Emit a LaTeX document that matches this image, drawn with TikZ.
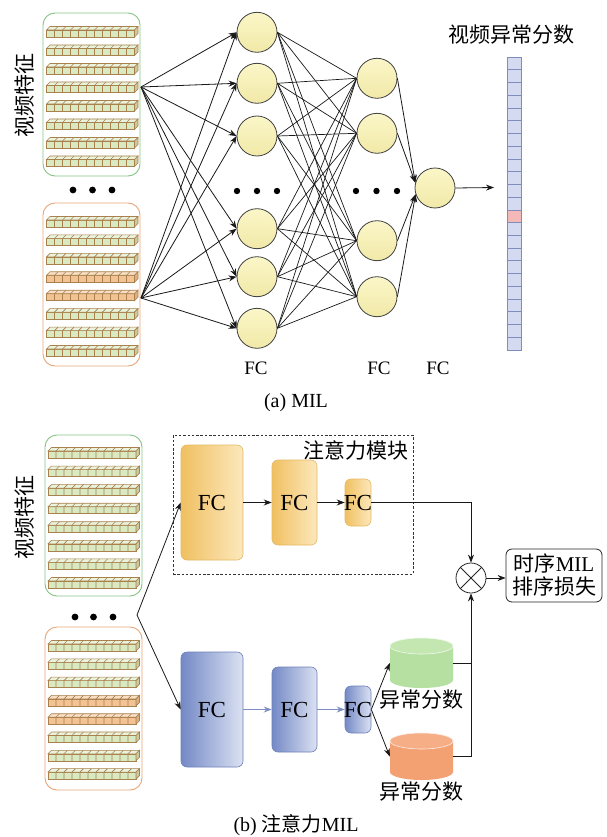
\documentclass[tikz,border=0pt]{standalone}
\usepackage{fontspec}
\setmainfont{Liberation Serif}
\newfontfamily\cjk{Noto Sans CJK SC}
\usetikzlibrary{arrows.meta,calc}
\definecolor{gbox}{HTML}{86C486}
\definecolor{obox}{HTML}{E9A679}
\definecolor{barln}{HTML}{A9814C}
\definecolor{gbar}{HTML}{D9EAC3}
\definecolor{obar}{HTML}{F4C395}
\definecolor{neur}{HTML}{FBF6C8}
\definecolor{neurb}{HTML}{F1E9A8}
\definecolor{oleft}{HTML}{F0C062}
\definecolor{oright}{HTML}{FCE8BC}
\definecolor{oline}{HTML}{E6B964}
\definecolor{bleft}{HTML}{7489C6}
\definecolor{bright}{HTML}{DCE2F2}
\definecolor{bline}{HTML}{6E80BA}
\definecolor{barrow}{HTML}{7F8EC0}
\definecolor{scoref}{HTML}{D4DBF0}
\definecolor{scorel}{HTML}{7F8DBD}
\definecolor{scorer}{HTML}{F3B9B9}
\definecolor{gcylc}{HTML}{B6DFA2}
\definecolor{gcylt}{HTML}{C4E7B2}
\definecolor{ocylc}{HTML}{F3A073}
\definecolor{ocylt}{HTML}{F6AE86}
\newcommand{\featbar}[3]{%
  \filldraw[barln, line width=0.6pt, fill=#3] (#1,#2) rectangle ++(88,7);
  \filldraw[barln, line width=0.6pt, fill=#3!55!white] (#1,#2) -- ++(3.5,-3.5) -- ++(88,0) -- ++(-3.5,3.5) -- cycle;
  \filldraw[barln, line width=0.6pt, fill=#3!70!barln] ({#1+88},#2) -- ++(3.5,-3.5) -- ++(0,7) -- ++(-3.5,3.5) -- cycle;
  \foreach \i in {1,...,10} {\draw[barln, line width=0.6pt] ({#1+\i*8},{#2+7}) -- ({#1+\i*8},#2) -- ++(3.5,-3.5);}
}
\begin{document}
\begin{tikzpicture}[x=1pt,y=-1pt,
  arr/.style={-{Stealth[length=8pt,width=6pt]}, line width=0.8pt, black!90},
  barr/.style={-{Stealth[length=8pt,width=6pt]}, line width=0.9pt, barrow},
  conn/.style={line width=0.7pt, black!90},
  neuron/.style={circle, draw=black!75, line width=0.8pt, top color=neur, bottom color=neurb, minimum size=40, inner sep=0pt},
  featbox/.style={draw, rounded corners=12, line width=0.9pt, minimum width=97, inner sep=0pt},
  fclabel/.style={font=\fontsize{19}{19}\selectfont},
  infc/.style={font=\fontsize{23}{23}\selectfont},
  cjkt/.style={font=\cjk\fontsize{21}{21}\selectfont},
  ofc/.style={draw=oline, line width=0.6pt, rounded corners=6, left color=oleft, right color=oright, inner sep=0pt},
  bfc/.style={draw=bline, line width=0.6pt, rounded corners=6, left color=bleft, right color=bright, inner sep=0pt},
]
\useasboundingbox (0,0) rectangle (606,837);
\fill[white] (0,0) rectangle (606,837);

% ---------------- (a) MIL ----------------
\node[featbox, draw=gbox, minimum height=163] (fa1) at (91.5,94.5) {};
\node[featbox, draw=obox, minimum height=163] (fa2) at (91.5,284.5) {};
\foreach \k in {0,...,7} {\featbar{46.5}{32-2+\k*18.5}{gbar}}
\foreach \k/\c in {0/gbar,1/gbar,2/gbar,3/obar,4/obar,5/gbar,6/gbar,7/gbar} {\featbar{46.5}{222-2+\k*18.43}{\c}}
\node[cjkt, rotate=90] (vf1) at (25,96) {视频特征};
\foreach \x in {73,92.5,112} {\fill (\x,190) circle[radius=3.4];}

\coordinate (src1) at (141,87);
\coordinate (src2) at (141,298);

\foreach \n/\y in {1/32.3,2/83.3,3/136,4/228.7,5/276.7,6/328.3} {\node[neuron] (a\n) at (257,\y) {};}
\foreach \n/\y in {1/78.3,2/133.3,3/240.7,4/296.7} {\node[neuron] (b\n) at (377,\y) {};}
\node[neuron] (c1) at (435,188) {};

\foreach \i in {1,...,6} {
  \draw[arr] (src1) -- (a\i.west);
  \draw[arr] (src2) -- (a\i.west);
}
\foreach \i in {1,...,6} {\foreach \j in {1,...,4} {\draw[conn] (a\i.east) -- (b\j.west);}}
\draw[arr] (b1.east) -- (c1.165);
\draw[arr] (b2.east) -- (c1.165);
\draw[arr] (b3.east) -- (c1.198);
\draw[arr] (b4.east) -- (c1.198);
\coordinate (outtip) at (494,187.5);
\draw[arr] (c1.east) -- (outtip);

\foreach \x in {237,257,277} {\fill (\x,191) circle[radius=3.2];}
\foreach \x in {356,376.5,397} {\fill (\x,191) circle[radius=3.2];}

\node[fclabel] (fcl1) at (256,368) {FC};
\node[fclabel] (fcl2) at (379,368) {FC};
\node[fclabel] (fcl3) at (438,368) {FC};
\node[font=\fontsize{20}{20}\selectfont] (capa) at (296,403) {(a) MIL};

% score bar
\node[cjkt] (sctitle) at (511,35) {视频异常分数};
\foreach \k in {0,...,22} {
  \pgfmathsetmacro{\yy}{57+\k*12.74}
  \ifnum\k=12
    \filldraw[draw=scorel, fill=scorer, line width=0.7pt] (507,\yy) rectangle (521,\yy+12.74);
  \else
    \filldraw[draw=scorel, fill=scoref, line width=0.7pt] (507,\yy) rectangle (521,\yy+12.74);
  \fi
}

% ---------------- (b) attention MIL ----------------
\node[featbox, draw=gbox, minimum height=161] (fb1) at (93.5,515.5) {};
\node[featbox, draw=obox, minimum height=163] (fb2) at (93.5,708.5) {};
\foreach \k in {0,...,7} {\featbar{48}{453-2+\k*18.57}{gbar}}
\foreach \k/\c in {0/gbar,1/gbar,2/gbar,3/obar,4/obar,5/gbar,6/gbar,7/gbar} {\featbar{48}{646-2+\k*18.3}{\c}}
\node[cjkt, rotate=90] (vf2) at (25,517) {视频特征};
\foreach \x in {75,93.5,113} {\fill (\x,617) circle[radius=3.4];}
\coordinate (src3) at (137,615);

\node[draw=black!80, dashed, dash pattern=on 2.5pt off 1.8pt, line width=0.7pt, minimum width=240, minimum height=139, inner sep=0pt] (attbox) at (293,504.5) {};
\node[cjkt] (attl) at (356,450) {注意力模块};

\node[ofc, minimum width=62, minimum height=115, label={[infc]center:FC}] (af1) at (212,502.5) {};
\node[ofc, minimum width=45, minimum height=85, label={[infc]center:FC}] (af2) at (294.5,502.5) {};
\node[ofc, minimum width=26, minimum height=47, label={[infc]center:FC}] (af3) at (358,502.5) {};

\node[bfc, minimum width=62, minimum height=115, label={[infc]center:FC}] (bf1) at (212,709.5) {};
\node[bfc, minimum width=45, minimum height=85, label={[infc]center:FC}] (bf2) at (294.5,709.5) {};
\node[bfc, minimum width=26, minimum height=47, label={[infc]center:FC}] (bf3) at (358,709.5) {};

\draw[arr] (src3) -- (af1.west);
\draw[arr] (src3) -- (bf1.west);
\draw[arr] (af1) -- (af2);
\draw[arr] (af2) -- (af3);
\draw[barr] (bf1) -- (bf2);
\draw[barr] (bf2) -- (bf3);

% cylinders
\fill[gcylc] (390,646) -- (390,680) arc[start angle=180, end angle=0, x radius=31.5, y radius=8] -- (453,646) -- cycle;
\filldraw[fill=gcylt, draw=white!80!gcylc, line width=0.6pt] (421.5,646) ellipse[x radius=31.5, y radius=8];
\node[minimum width=63, minimum height=50, inner sep=0pt] (gc) at (421.5,663) {};
\fill[ocylc] (390,741) -- (390,772) arc[start angle=180, end angle=0, x radius=31.5, y radius=8] -- (453,741) -- cycle;
\filldraw[fill=ocylt, draw=white!80!ocylc, line width=0.6pt] (421.5,741) ellipse[x radius=31.5, y radius=8];
\node[minimum width=63, minimum height=47, inner sep=0pt] (oc) at (421.5,756.5) {};
\node[cjkt] (gcl) at (421,700) {异常分数};
\node[cjkt] (ocl) at (421,792) {异常分数};

\draw[arr] (bf3.east) -- (gc.west);
\draw[arr] (bf3.east) -- (oc.west);

% combination
\node[circle, draw=black!85, line width=0.8pt, fill=white, minimum size=30, inner sep=0pt] (ot) at (471,578) {};
\draw[line width=0.8pt, black!85] (ot.45) -- (ot.225) (ot.135) -- (ot.315);
\draw[arr] (af3.east) -| (ot.north);
\draw[conn, line width=0.8pt] (gc.east) -- (gc.east -| ot.south);
\draw[arr] (oc.east) -| (ot.south);
\node[draw=black!85, line width=0.8pt, rounded corners=6, minimum width=96, minimum height=53, inner sep=1pt, align=center, font=\fontsize{21}{23}\selectfont] (res) at (554,575.5) {{\cjk 时序}MIL\\{\cjk 排序损失}};
\draw[arr] (ot.east) -- (ot.east -| res.west);

\node[font=\fontsize{20}{20}\selectfont] (capb) at (296,825) {(b) {\cjk 注意力}MIL};
\end{tikzpicture}
\end{document}
